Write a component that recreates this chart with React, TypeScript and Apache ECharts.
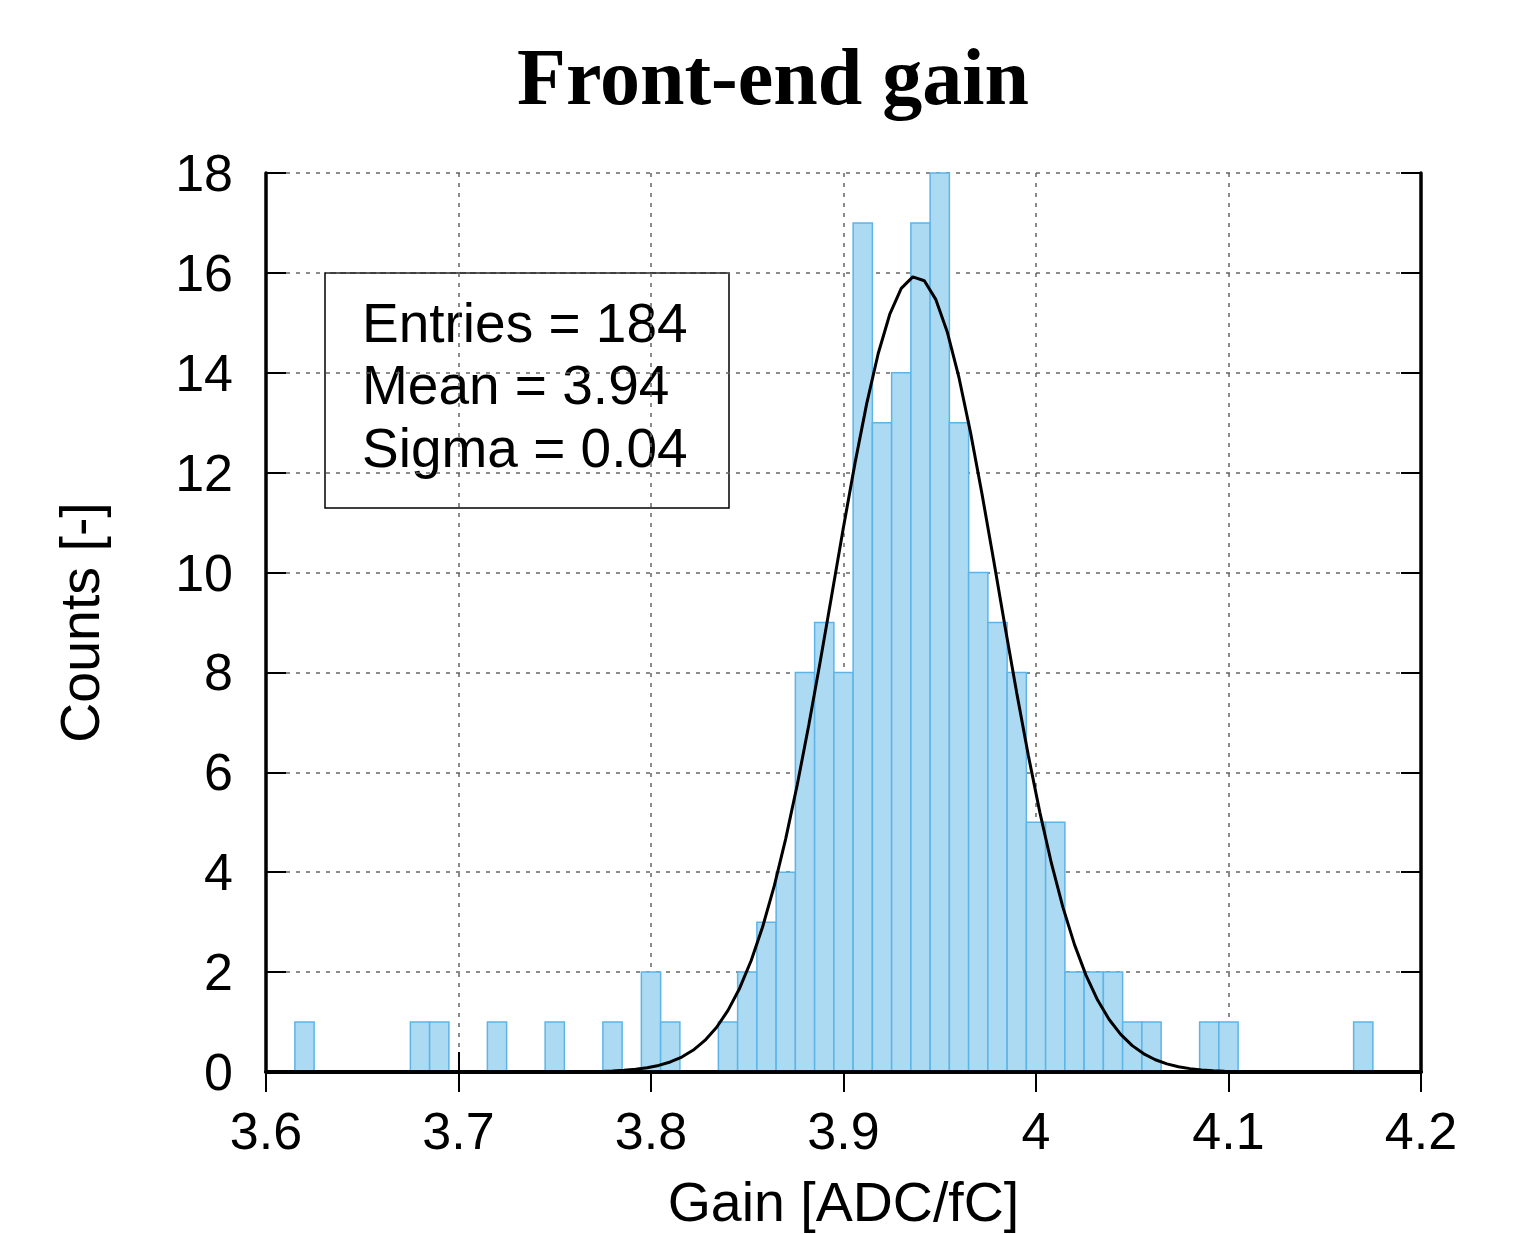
import React, { useEffect, useRef } from "react";
import * as echarts from "echarts";

// ---- data ----
const TITLE = "Front-end gain";
const X_NAME = "Gain [ADC/fC]";
const Y_NAME = "Counts [-]";
const STATS_LINES = ["Entries = 184", "Mean = 3.94", "Sigma = 0.04"];

const X_MIN = 3.6;
const X_MAX = 4.2;
const X_STEP = 0.1;
const Y_MIN = 0;
const Y_MAX = 18;
const Y_STEP = 2;

const BIN_WIDTH = 0.01;
const BIN_CENTERS = [
  3.62, 3.68, 3.69, 3.72, 3.75, 3.78, 3.8, 3.81, 3.84, 3.85, 3.86, 3.87, 3.88,
  3.89, 3.9, 3.91, 3.92, 3.93, 3.94, 3.95, 3.96, 3.97, 3.98, 3.99, 4.0, 4.01,
  4.02, 4.03, 4.04, 4.05, 4.06, 4.09, 4.1, 4.17,
];
const COUNTS = [
  1, 1, 1, 1, 1, 1, 2, 1, 1, 2, 3, 4, 8, 9, 8, 17, 13, 14, 17, 18, 13, 10, 9,
  8, 5, 5, 2, 2, 2, 1, 1, 1, 1, 1,
];

// Gaussian fit parameters (fitted function drawn over the histogram)
const FIT_AMP = 15.93;
const FIT_MEAN = 3.9375;
const FIT_SIGMA = 0.0431;
const FIT_NPX = 100;

const SANS = "'Liberation Sans', Arial, Helvetica, sans-serif";

export default function App() {
  const ref = useRef<HTMLDivElement>(null);

  useEffect(() => {
    document.body.style.margin = "0";
    const chart = echarts.init(ref.current!, null, { renderer: "svg" });

    const fitData: number[][] = [];
    for (let i = 0; i <= FIT_NPX; i++) {
      const x = X_MIN + ((X_MAX - X_MIN) * i) / FIT_NPX;
      const z = (x - FIT_MEAN) / FIT_SIGMA;
      fitData.push([x, FIT_AMP * Math.exp(-0.5 * z * z)]);
    }

    const fmt = (v: number) => String(Math.round(v * 10) / 10);
    const frameLine = { show: true, lineStyle: { color: "#000", width: 3.5 } };
    const innerTick = {
      show: true,
      inside: true,
      length: 20,
      lineStyle: { color: "#000", width: 2 },
    };
    const grid = {
      show: true,
      lineStyle: { color: "#666", width: 1.5, type: [4, 6] as any },
    };
    const labelStyle = {
      fontFamily: SANS,
      fontSize: 52,
      color: "#000",
      margin: 33,
    };
    const nameStyle = { fontFamily: SANS, fontSize: 55.5, color: "#000" };

    chart.setOption({
      animation: false,
      backgroundColor: "#fff",
      grid: {
        left: 266,
        top: 173,
        right: 106,
        bottom: 162,
        containLabel: false,
        outerBoundsMode: "none",
      },
      xAxis: [
        {
          type: "value",
          min: X_MIN,
          max: X_MAX,
          interval: X_STEP,
          position: "bottom",
          axisLine: frameLine,
          axisTick: innerTick,
          axisLabel: { ...labelStyle, formatter: fmt },
          splitLine: grid,
          name: X_NAME,
          nameLocation: "middle",
          nameGap: 102,
          nameTextStyle: nameStyle,
          z: 0,
        },
        {
          type: "value",
          min: X_MIN,
          max: X_MAX,
          interval: X_STEP,
          position: "top",
          axisLine: frameLine,
          axisTick: innerTick,
          axisLabel: { show: false },
          splitLine: { show: false },
          z: 10,
        },
        {
          type: "value",
          min: X_MIN,
          max: X_MAX,
          interval: X_STEP,
          position: "bottom",
          axisLine: frameLine,
          axisTick: { show: false },
          axisLabel: { show: false },
          splitLine: { show: false },
          z: 10,
        },
      ],
      yAxis: [
        {
          type: "value",
          min: Y_MIN,
          max: Y_MAX,
          interval: Y_STEP,
          position: "left",
          axisLine: frameLine,
          axisTick: innerTick,
          axisLabel: labelStyle,
          splitLine: grid,
          name: Y_NAME,
          nameLocation: "middle",
          nameGap: 158,
          nameRotate: 90,
          nameTextStyle: nameStyle,
          z: 0,
        },
        {
          type: "value",
          min: Y_MIN,
          max: Y_MAX,
          interval: Y_STEP,
          position: "right",
          axisLine: frameLine,
          axisTick: innerTick,
          axisLabel: { show: false },
          splitLine: { show: false },
          z: 10,
        },
      ],
      series: [
        {
          type: "custom",
          name: "Counts",
          xAxisIndex: 0,
          yAxisIndex: 0,
          z: 2,
          encode: { x: 0, y: 1 },
          data: BIN_CENTERS.map((c, i) => [c, COUNTS[i]]),
          renderItem: (_params: any, api: any) => {
            const x = api.value(0);
            const c = api.value(1);
            const p0 = api.coord([x - BIN_WIDTH / 2, c]);
            const p1 = api.coord([x + BIN_WIDTH / 2, 0]);
            return {
              type: "rect",
              shape: {
                x: p0[0],
                y: p0[1],
                width: p1[0] - p0[0],
                height: p1[1] - p0[1],
              },
              style: { fill: "#addaf3", stroke: "#5db4e6", lineWidth: 1.5 },
            };
          },
        },
        {
          type: "line",
          name: "Fit",
          xAxisIndex: 0,
          yAxisIndex: 0,
          z: 3,
          data: fitData,
          showSymbol: false,
          symbol: "none",
          smooth: false,
          lineStyle: { color: "#000", width: 3 },
        },
      ],
      graphic: [
        {
          type: "text",
          x: 773,
          y: 77,
          z: 20,
          style: {
            text: TITLE,
            font: "bold 80px 'Liberation Serif', 'Times New Roman', serif",
            fill: "#000",
            align: "center",
            verticalAlign: "middle",
          },
        },
        {
          type: "group",
          z: 20,
          children: [
            {
              type: "rect",
              shape: { x: 325, y: 273, width: 404, height: 235 },
              style: { fill: "#fff", stroke: "#000", lineWidth: 1.5 },
            },
            ...STATS_LINES.map((t, i) => ({
              type: "text",
              x: 362,
              y: 322.6 + i * 62.5,
              style: {
                text: t,
                font: `55px ${SANS}`,
                fill: "#000",
                align: "left",
                verticalAlign: "middle",
              },
            })),
          ],
        },
      ],
    });

    return () => chart.dispose();
  }, []);

  return (
    <div
      ref={ref}
      style={{ position: "absolute", left: 0, top: 0, width: 1527, height: 1234 }}
    />
  );
}
